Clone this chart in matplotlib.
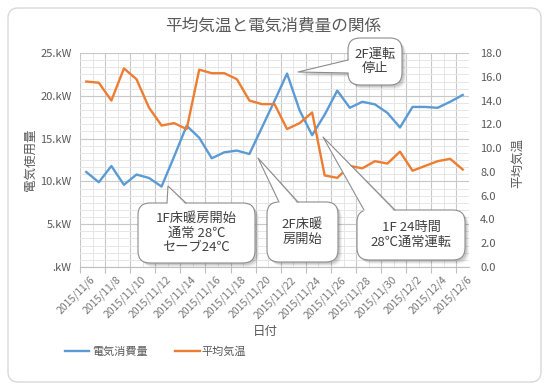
import matplotlib
matplotlib.use("Agg")
import matplotlib.pyplot as plt
from matplotlib.patches import FancyBboxPatch, Polygon
from matplotlib.lines import Line2D
from matplotlib.transforms import Affine2D
from matplotlib.ticker import MultipleLocator, FuncFormatter, FixedLocator

plt.rcParams['font.family'] = ['Noto Sans CJK JP', 'DejaVu Sans']

# daily values 2015/11/6 .. 2015/12/6
dates = ['2015/11/%d' % d for d in range(6, 31)] + ['2015/12/%d' % d for d in range(1, 7)]
power_kw = [11.1, 9.9, 11.8, 9.6, 10.8, 10.4, 9.4, 12.9, 16.5, 15.1, 12.7, 13.4, 13.6,
            13.2, 16.3, 19.4, 22.6, 18.3, 15.4, 17.8, 20.6, 18.6, 19.3, 19.0, 18.0,
            16.3, 18.7, 18.7, 18.6, 19.3, 20.1]
avg_temp = [15.6, 15.5, 14.0, 16.7, 15.8, 13.4, 11.9, 12.1, 11.6, 16.6, 16.3, 16.3, 15.8,
            14.0, 13.7, 13.7, 11.6, 12.1, 13.0, 7.7, 7.5, 8.5, 8.3, 8.9, 8.7,
            9.7, 8.1, 8.5, 8.9, 9.1, 8.2]

BLUE = '#5B9BD5'
ORANGE = '#ED7D31'
TXT = '#595959'

W, H = 548, 391
fig = plt.figure(figsize=(W / 100, H / 100), dpi=100)
# pixel coords, origin top-left
px = Affine2D().scale(1, -1).translate(0, H).scale(1 / W, 1 / H) + fig.transFigure

# outer rounded frame
fig.patches.append(FancyBboxPatch((8, 8), 533, 374, boxstyle='round,pad=0,rounding_size=10',
                                  transform=px, fc='none', ec='#D9D9D9', lw=1, zorder=-1))

ax = fig.add_axes([80 / W, 1 - 267 / H, (469 - 80) / W, (267 - 53) / H])
ax.set_facecolor('none')
x = list(range(len(dates)))
ax.set_xlim(-0.5, len(dates) - 0.5)
ax.set_ylim(0, 25)

ax.yaxis.set_major_locator(MultipleLocator(5))
ax.yaxis.set_minor_locator(MultipleLocator(5 / 6))
ax.yaxis.set_major_formatter(FuncFormatter(lambda v, p: '.kW' if v == 0 else '%d.kW' % v))
ax.xaxis.set_major_locator(FixedLocator([i - 0.5 for i in range(0, len(dates) + 1, 2)]))
ax.xaxis.set_minor_locator(FixedLocator([i - 0.5 for i in range(len(dates) + 1)]))
ax.set_xticklabels([])
ax.grid(which='major', color='#C8C8C8', lw=0.8)
ax.grid(which='minor', color='#E6E6E6', lw=0.7)
ax.set_axisbelow(True)
for s in ax.spines.values():
    s.set_visible(False)
ax.spines['bottom'].set_visible(True)
ax.spines['bottom'].set_color('#BFBFBF')
ax.tick_params(axis='y', which='both', length=0, labelsize=8, labelcolor=TXT, pad=6)
ax.tick_params(axis='x', which='major', length=4, color='#BFBFBF')
ax.tick_params(axis='x', which='minor', length=0)

# date labels every two days
for i in range(0, len(dates), 2):
    ax.text(i + 0.3, -0.035, dates[i], transform=ax.get_xaxis_transform(), rotation=45,
            ha='right', va='top', rotation_mode='anchor', fontsize=7.5, color='#767676')

ax.plot(x, power_kw, color=BLUE, lw=1.7, zorder=3)
ax2 = ax.twinx()
ax2.set_ylim(0, 18)
ax2.yaxis.set_major_locator(MultipleLocator(2))
ax2.yaxis.set_major_formatter(FuncFormatter(lambda v, p: '%.1f' % v))
ax2.tick_params(axis='y', length=0, labelsize=8, labelcolor=TXT, pad=8)
for s in ax2.spines.values():
    s.set_visible(False)
ax2.plot(x, avg_temp, color=ORANGE, lw=1.7, zorder=3)

fig.text(273 / W, 1 - 26 / H, '平均気温と電気消費量の関係', ha='center', va='center',
         fontsize=12, color=TXT)
fig.text(30 / W, 1 - 160 / H, '電気使用量', rotation=90, ha='center', va='center',
         fontsize=9, color=TXT)
fig.text(518 / W, 1 - 163 / H, '平均気温', rotation=90, ha='center', va='center',
         fontsize=9, color=TXT)
fig.text(265 / W, 1 - 332 / H, '日付', ha='center', va='center', fontsize=9, color=TXT)

handles = [Line2D([], [], color=BLUE, lw=1.7), Line2D([], [], color=ORANGE, lw=1.7)]
fig.legend(handles, ['電気消費量', '平均気温'], loc='center left', ncol=2, frameon=False,
           bbox_to_anchor=(55 / W, 1 - 352 / H), fontsize=8, handlelength=2.2,
           handletextpad=0.2, columnspacing=2.5, labelcolor=TXT)


def callout(text, box, tip, base, edge='top'):
    x0, y0, x1, y1 = box
    (b1x, b1y), (b2x, b2y) = base
    inset = {'top': (0, 2), 'left': (2, 0)}[edge]
    z = 10
    # soft shadow
    for k, a in [(4, 0.05), (3, 0.07), (2, 0.09)]:
        fig.patches.append(FancyBboxPatch((x0 + k, y0 + k), x1 - x0, y1 - y0,
                                          boxstyle='round,pad=0,rounding_size=12', transform=px,
                                          fc='black', ec='none', alpha=a, zorder=z))
        fig.patches.append(Polygon([(b1x + k, b1y + k), (tip[0] + k, tip[1] + k), (b2x + k, b2y + k)],
                                   closed=True, transform=px, fc='black', ec='none', alpha=a, zorder=z))
    fig.patches.append(FancyBboxPatch((x0, y0), x1 - x0, y1 - y0,
                                      boxstyle='round,pad=0,rounding_size=12', transform=px,
                                      fc='white', ec='#8C8C8C', lw=0.8, zorder=z + 1))
    fig.patches.append(Polygon([(b1x + inset[0], b1y + inset[1]), tip, (b2x + inset[0], b2y + inset[1])],
                               closed=True, transform=px, fc='white', ec='none', zorder=z + 2))
    fig.lines.append(Line2D([b1x, tip[0], b2x], [b1y, tip[1], b2y], transform=px,
                            color='#8C8C8C', lw=0.8, zorder=z + 3))
    fig.text((x0 + x1) / 2 / W, 1 - (y0 + y1) / 2 / H, text, ha='center', va='center',
             fontsize=9.5, color='#404040', linespacing=1.15, zorder=z + 4)


callout('1F床暖房開始\n通常 28℃\nセーブ24℃', (138, 203, 255, 263), (168, 186),
        [(167, 203), (186, 203)])
callout('2F床暖\n房開始', (267, 202, 338, 262), (258, 158), [(279, 202), (298, 202)])
callout('2F運転\n停止', (348, 38, 402, 85), (298, 72), [(348, 60), (348, 73)], edge='left')
callout('1F 24時間\n28℃通常運転', (357, 210, 465, 260), (323, 137), [(364, 210), (395, 210)])

fig.savefig('out.png', dpi=100)
